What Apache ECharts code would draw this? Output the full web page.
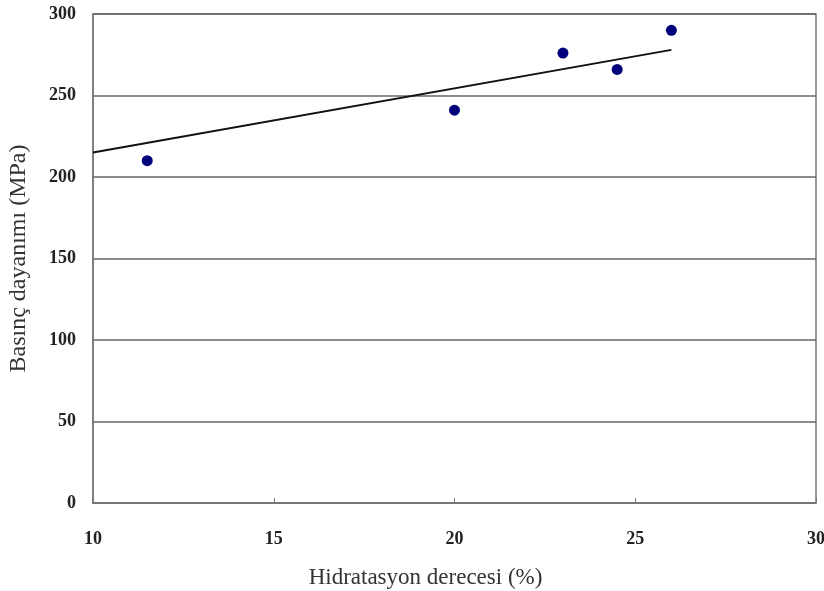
<!DOCTYPE html>
<html>
<head>
<meta charset="utf-8">
<script src="https://cdn.jsdelivr.net/npm/echarts@6/dist/echarts.min.js"></script>
<style>
  html, body { margin: 0; padding: 0; background: #fff; }
  #main { width: 824px; height: 591px; }
</style>
</head>
<body>
<div id="main"></div>
<script>
// measured points (hydration degree %, compressive strength MPa)
var hydration = [11.5, 20, 23, 24.5, 26];
var strength = [210, 241, 276, 266, 290];
// trend line ends as drawn in the figure
var trendX = [10, 26];
var trendY = [215, 278];

var chartDom = document.getElementById('main');
var myChart = echarts.init(chartDom);
var option;

var serif = 'Liberation Serif';

option = {
  animation: false,
  backgroundColor: '#fff',
  grid: {
    left: 93,
    right: 8,
    top: 14,
    bottom: 88,
    outerBoundsMode: 'none',
    containLabel: false,
    show: true,
    borderColor: '#777',
    borderWidth: 1.5
  },
  xAxis: {
    type: 'value',
    min: 10,
    max: 30,
    interval: 5,
    name: 'Hidratasyon derecesi (%)',
    nameLocation: 'middle',
    nameGap: 63,
    nameTextStyle: {
      fontFamily: serif,
      fontSize: 23,
      color: '#333',
      padding: [0, 58, 0, 0]
    },
    axisLine: { show: true, lineStyle: { color: '#777', width: 1.5 } },
    axisTick: { show: true, inside: true, length: 5, lineStyle: { color: '#777' } },
    axisLabel: {
      fontFamily: serif,
      fontWeight: 'bold',
      fontSize: 18,
      color: '#222',
      margin: 27
    },
    splitLine: { show: false }
  },
  yAxis: {
    type: 'value',
    min: 0,
    max: 300,
    interval: 50,
    name: 'Basınç dayanımı (MPa)',
    nameLocation: 'middle',
    nameGap: 62,
    nameTextStyle: {
      fontFamily: serif,
      fontSize: 24,
      color: '#333'
    },
    axisLine: { show: true, lineStyle: { color: '#777', width: 1.5 } },
    axisTick: { show: false },
    axisLabel: {
      fontFamily: serif,
      fontWeight: 'bold',
      fontSize: 18,
      color: '#222',
      margin: 17
    },
    splitLine: { show: true, lineStyle: { color: '#666', width: 1.5 } }
  },
  series: [
    {
      type: 'line',
      data: trendX.map(function (x, i) { return [x, trendY[i]]; }),
      showSymbol: false,
      lineStyle: { color: '#111', width: 2 },
      z: 2
    },
    {
      type: 'scatter',
      data: hydration.map(function (x, i) { return [x, strength[i]]; }),
      symbolSize: 11,
      itemStyle: { color: '#00007a', opacity: 1 },
      z: 3
    }
  ]
};

option && myChart.setOption(option);
</script>
</body>
</html>
